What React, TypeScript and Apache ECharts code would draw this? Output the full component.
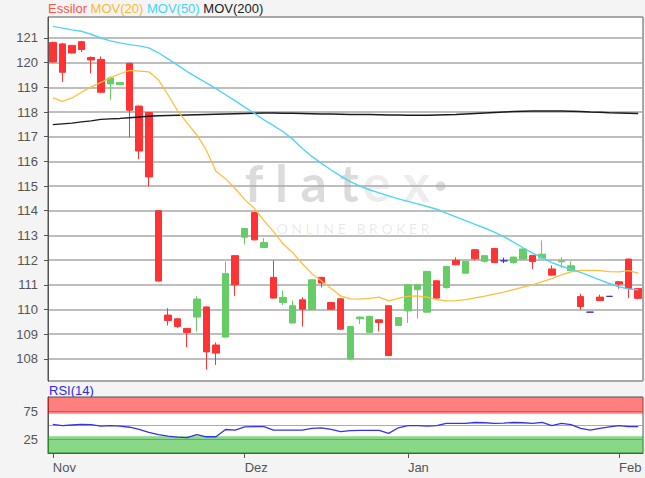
import React, { useEffect, useRef } from "react";
import * as echarts from "echarts";

// [open, close, low, high]
const candles: number[][] = [
  [120.82, 120.03, 120.0, 120.85],
  [120.76, 119.61, 119.22, 120.8],
  [120.7, 120.39, 120.38, 120.72],
  [120.85, 120.53, 120.43, 120.87],
  [120.21, 120.11, 119.57, 120.25],
  [120.13, 118.8, 118.78, 120.25],
  [119.14, 119.38, 118.5, 119.45],
  [119.11, 119.2, 119.1, 119.21],
  [119.97, 118.07, 116.97, 120.0],
  [118.24, 116.42, 116.09, 118.26],
  [117.98, 115.37, 114.98, 118.0],
  [114.0, 111.15, 111.13, 114.02],
  [109.77, 109.55, 109.35, 110.05],
  [109.62, 109.31, 109.25, 109.64],
  [109.23, 109.07, 108.47, 109.25],
  [109.69, 110.42, 109.11, 110.53],
  [110.1, 108.28, 107.56, 110.12],
  [108.56, 108.23, 107.75, 108.66],
  [108.88, 111.45, 108.86, 111.94],
  [112.18, 111.0, 110.55, 112.2],
  [112.93, 113.28, 112.63, 113.3],
  [113.93, 112.82, 112.8, 113.95],
  [112.51, 112.71, 112.49, 112.89],
  [111.3, 110.46, 110.44, 111.99],
  [110.28, 110.49, 110.18, 110.77],
  [109.45, 110.15, 109.43, 110.36],
  [110.39, 110.01, 109.31, 110.49],
  [109.99, 111.2, 109.97, 111.22],
  [111.3, 111.07, 110.89, 111.32],
  [110.28, 110.01, 109.99, 110.3],
  [110.43, 109.2, 109.18, 110.45],
  [107.99, 109.31, 107.97, 109.33],
  [109.62, 109.69, 109.41, 109.71],
  [109.07, 109.72, 109.05, 109.74],
  [109.58, 109.47, 109.11, 109.6],
  [110.15, 108.13, 108.11, 110.17],
  [109.35, 109.67, 109.33, 109.69],
  [109.94, 111.0, 109.45, 111.02],
  [110.8, 111.0, 109.63, 111.02],
  [109.89, 111.54, 109.87, 111.56],
  [111.16, 110.46, 110.44, 111.18],
  [110.89, 111.74, 110.84, 111.76],
  [111.99, 111.81, 111.79, 112.11],
  [111.47, 111.95, 111.45, 111.97],
  [112.42, 112.05, 111.99, 112.44],
  [111.95, 112.18, 111.9, 112.2],
  [112.47, 111.9, 111.88, 112.49],
  [111.97, 111.97, 111.88, 112.1],
  [111.9, 112.12, 111.85, 112.14],
  [112.04, 112.45, 112.02, 112.47],
  [112.19, 111.94, 111.64, 112.21],
  [112.08, 112.24, 112.06, 112.8],
  [111.64, 111.39, 111.37, 111.78],
  [111.93, 111.97, 111.68, 112.12],
  [111.57, 111.77, 111.55, 111.95],
  [110.52, 110.12, 109.99, 110.63],
  [109.89, 109.89, 109.89, 109.89],
  [110.5, 110.36, 110.34, 110.6],
  [110.53, 110.53, 110.53, 110.53],
  [111.12, 111.03, 110.84, 111.14],
  [112.04, 110.85, 110.46, 112.06],
  [110.85, 110.45, 110.41, 110.87],
];

const mov20: number[] = [
  118.57, 118.43, 118.57, 118.8, 119.02, 119.2, 119.38, 119.55, 119.69, 119.66,
  119.63, 119.31, 118.7, 118.05, 117.55, 117.08, 116.45, 115.6, 115.3, 114.9,
  114.45, 114.1, 113.6, 113.15, 112.65, 112.3, 111.85, 111.45, 111.15, 110.85,
  110.55, 110.43, 110.42, 110.45, 110.5, 110.35, 110.45, 110.53, 110.55, 110.5,
  110.4, 110.35, 110.36, 110.4, 110.47, 110.54, 110.62, 110.7, 110.8, 110.9,
  111.0, 111.13, 111.25, 111.4, 111.52, 111.58, 111.58, 111.57, 111.53, 111.52,
  111.57, 111.47,
];

const mov50: number[] = [
  121.47, 121.4, 121.33, 121.27, 121.15, 121.0, 120.88, 120.8, 120.73, 120.68,
  120.6, 120.4, 120.15, 119.9, 119.64, 119.4, 119.18, 118.95, 118.7, 118.45,
  118.2, 117.95, 117.68, 117.45, 117.2, 116.9, 116.52, 116.2, 115.92, 115.65,
  115.4, 115.18, 115.0, 114.85, 114.72, 114.6, 114.48, 114.38, 114.28, 114.17,
  114.06, 113.9, 113.75, 113.6, 113.45, 113.3, 113.13, 112.95, 112.73, 112.5,
  112.28, 112.1, 111.9, 111.75, 111.62, 111.5, 111.35, 111.2, 111.05, 110.92,
  110.83, 110.8,
];

const mov200: number[] = [
  117.49, 117.52, 117.55, 117.6, 117.64, 117.7, 117.72, 117.74, 117.77, 117.8,
  117.83, 117.85, 117.86, 117.87, 117.88, 117.89, 117.9, 117.91, 117.92, 117.93,
  117.94, 117.95, 117.96, 117.96, 117.95, 117.95, 117.94, 117.93, 117.92, 117.92,
  117.91, 117.9, 117.9, 117.9, 117.89, 117.88, 117.88, 117.87, 117.87, 117.87,
  117.88, 117.89, 117.9, 117.92, 117.94, 117.96, 117.98, 118.0, 118.02, 118.03,
  118.04, 118.04, 118.04, 118.04, 118.03, 118.02, 118.0, 117.99, 117.97, 117.96,
  117.95, 117.94,
];

const rsi: number[] = [
  51, 49, 50, 51, 50.5, 48, 49, 48, 46, 42,
  37, 33, 30, 28.5, 27.5, 33, 29, 29, 42, 41,
  46.5, 47, 47, 41, 41, 41, 41, 44, 45, 42,
  38, 40, 40.5, 40.5, 40.5, 35, 45, 48.8, 49, 48,
  48.8, 53, 53, 53, 54.5, 54, 53, 53.5, 54.5, 54,
  53, 54.8, 49, 53, 50.5, 44, 41, 44, 46.5, 48.8,
  47, 47,
];

const monthStartIndex: number[] = [0, 20, 37, 59];
const monthLabels: string[] = ["Nov", "Dez", "Jan", "Feb"];
const rsiTickLabels: number[] = [25, 75];

const categories = candles.map((_, i) => String(i));

const FONT = "'Liberation Sans', Arial, sans-serif";

export default function App() {
  const ref = useRef<HTMLDivElement>(null);

  useEffect(() => {
    if (!ref.current) return;
    const chart = echarts.init(ref.current, null, { renderer: "svg" });
    const isMonthStart = (i: number) => monthStartIndex.indexOf(i) >= 0;

    const option: any = {
      animation: false,
      backgroundColor: "#f4f4f4",
      textStyle: { fontFamily: FONT },
      grid: [
        {
          left: 48,
          right: 2,
          top: 17,
          height: 364,
          show: true,
          backgroundColor: "#ffffff",
          borderColor: "#555",
          borderWidth: 1,
        },
        {
          left: 48,
          right: 2,
          top: 397,
          height: 56,
          show: true,
          backgroundColor: "#ffffff",
          borderColor: "#555",
          borderWidth: 1,
        },
      ],
      xAxis: [
        {
          type: "category",
          gridIndex: 0,
          data: categories,
          boundaryGap: true,
          axisLine: { show: false },
          axisTick: { show: false },
          axisLabel: { show: false },
          splitLine: { show: false },
        },
        {
          type: "category",
          gridIndex: 1,
          data: categories,
          boundaryGap: true,
          axisLine: { show: true, lineStyle: { color: "#555" } },
          axisTick: {
            show: true,
            alignWithLabel: true,
            length: 5,
            interval: (i: number) => isMonthStart(i),
            lineStyle: { color: "#555" },
          },
          axisLabel: {
            interval: (i: number) => isMonthStart(i),
            formatter: (_v: string, i: number) => {
              const k = monthStartIndex.indexOf(i);
              return k >= 0 ? monthLabels[k] : "";
            },
            align: "left",
            margin: 8,
            color: "#555",
            fontSize: 13,
            fontFamily: FONT,
          },
          splitLine: { show: false },
        },
      ],
      yAxis: [
        {
          type: "value",
          gridIndex: 0,
          min: 107.1,
          max: 121.85,
          splitNumber: 14,
          minInterval: 1,
          maxInterval: 1,
          axisLine: { show: true, lineStyle: { color: "#555" } },
          axisTick: { show: true, length: 4, lineStyle: { color: "#555" } },
          axisLabel: {
            color: "#555",
            fontSize: 13,
            fontFamily: FONT,
            margin: 10,
            showMinLabel: false,
            showMaxLabel: false,
          },
          splitLine: { show: true, lineStyle: { color: "#a8a8a8", width: 1.6 } },
        },
        {
          type: "value",
          gridIndex: 1,
          min: 0,
          max: 100,
          interval: 25,
          axisLine: { show: true, lineStyle: { color: "#555" } },
          axisTick: { show: false },
          axisLabel: {
            color: "#555",
            fontSize: 13,
            fontFamily: FONT,
            margin: 10,
            formatter: (v: number) => (rsiTickLabels.indexOf(v) >= 0 ? String(v) : ""),
          },
          splitLine: { show: true, lineStyle: { color: "#aaaaaa", width: 1.2 } },
        },
      ],
      graphic: [
        {
          type: "text",
          x: 346,
          y: 182,
          silent: true,
          z: 0,
          style: {
            text: "{a|f l a t} {b|e x} {a|·}",
            align: "center",
            verticalAlign: "middle",
            rich: {
              a: { fontSize: 52, lineHeight: 52, fontFamily: "Lato", fontWeight: "bold", fill: "rgba(0,0,0,0.14)", color: "rgba(0,0,0,0.14)" },
              b: { fontSize: 52, lineHeight: 52, fontFamily: "Lato", fontWeight: "bold", fill: "rgba(0,0,0,0.07)", color: "rgba(0,0,0,0.07)" },
            },
          },
        },
        {
          type: "text",
          x: 353,
          y: 228,
          silent: true,
          z: 0,
          style: {
            text: "O N L I N E   B R O K E R",
            fontSize: 14,
            fontFamily: "Lato",
            fill: "rgba(0,0,0,0.1)",
            align: "center",
            verticalAlign: "middle",
          },
        },
        {
          type: "text",
          x: 48,
          y: 8,
          style: {
            text: "{a|Essilor} {b|MOV(20)} {c|MOV(50)} {d|MOV(200)}",
            verticalAlign: "middle",
            fontSize: 13,
            fontFamily: FONT,
            rich: {
              a: { fontSize: 13, fontFamily: FONT, fill: "#ff5544", color: "#ff5544" },
              b: { fontSize: 13, fontFamily: FONT, fill: "#ffb930", color: "#ffb930" },
              c: { fontSize: 13, fontFamily: FONT, fill: "#44d4f8", color: "#44d4f8" },
              d: { fontSize: 13, fontFamily: FONT, fill: "#222", color: "#222" },
            },
          },
        },
        {
          type: "text",
          x: 49,
          y: 390,
          style: {
            text: "RSI(14)",
            verticalAlign: "middle",
            fontSize: 13,
            fontFamily: FONT,
            fill: "#2a2aee",
          },
        },
      ],
      series: [
        {
          name: "Essilor",
          type: "candlestick",
          xAxisIndex: 0,
          yAxisIndex: 0,
          data: candles,
          barWidth: 7,
          itemStyle: {
            color: "#66cc66",
            color0: "#ff3333",
            borderColor: "#66cc66",
            borderColor0: "#ff3333",
            borderColorDoji: "#3333cc",
            borderWidth: 1,
          },
        },
        {
          name: "MOV(200)",
          type: "line",
          xAxisIndex: 0,
          yAxisIndex: 0,
          data: mov200,
          symbol: "none",
          showSymbol: false,
          lineStyle: { color: "#1a1a1a", width: 1.4 },
        },
        {
          name: "MOV(20)",
          type: "line",
          xAxisIndex: 0,
          yAxisIndex: 0,
          data: mov20,
          symbol: "none",
          showSymbol: false,
          lineStyle: { color: "#ffbe3c", width: 1.3 },
        },
        {
          name: "MOV(50)",
          type: "line",
          xAxisIndex: 0,
          yAxisIndex: 0,
          data: mov50,
          symbol: "none",
          showSymbol: false,
          lineStyle: { color: "#50d4f4", width: 1.4 },
        },
        {
          name: "RSI(14)",
          type: "line",
          xAxisIndex: 1,
          yAxisIndex: 1,
          data: rsi,
          symbol: "none",
          showSymbol: false,
          lineStyle: { color: "#3333ee", width: 1.3 },
          markArea: {
            silent: true,
            data: [
              [{ yAxis: 70, itemStyle: { color: "rgba(255,0,0,0.5)" } }, { yAxis: 100 }],
              [{ yAxis: 0, itemStyle: { color: "rgba(17,177,17,0.5)" } }, { yAxis: 30 }],
            ],
          },
        },
      ],
    };

    chart.setOption(option);
    return () => chart.dispose();
  }, []);

  return (
    <div
      ref={ref}
      style={{
        position: "fixed",
        left: 0,
        top: 0,
        width: 645,
        height: 478,
        background: "#f4f4f4",
      }}
    />
  );
}
